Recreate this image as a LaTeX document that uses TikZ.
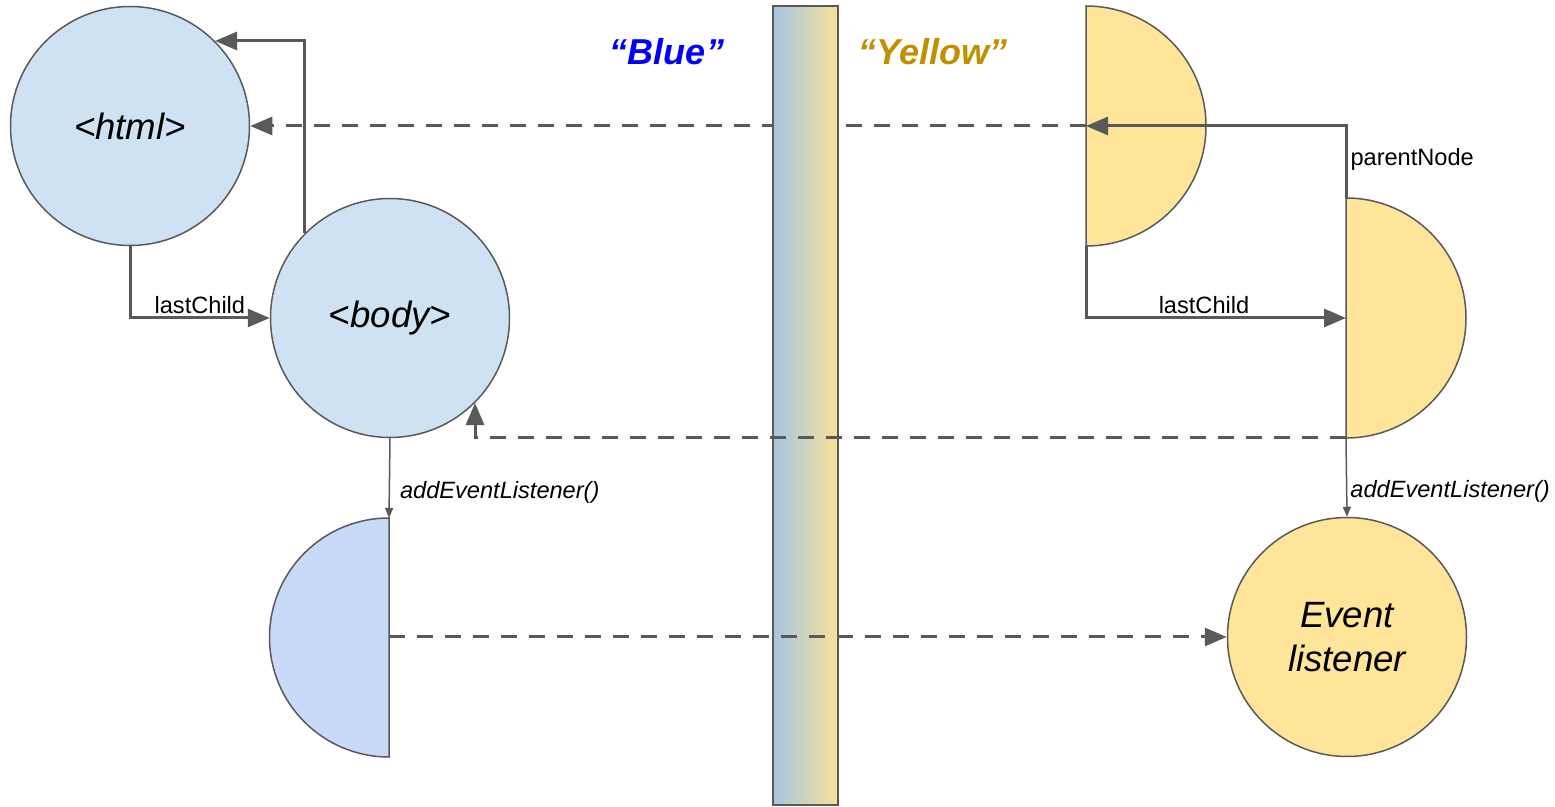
\documentclass[tikz,border=0pt]{standalone}
\usepackage{fontspec}
\setmainfont{Liberation Sans}
\usetikzlibrary{arrows.meta}
\definecolor{LineGray}{HTML}{595959}
\definecolor{NodeBlue}{HTML}{CFE2F3}
\definecolor{ListBlue}{HTML}{C9DAF8}
\definecolor{NodeYellow}{HTML}{FFE599}
\definecolor{BarBlue}{HTML}{A6C6E2}
\definecolor{BarYellow}{HTML}{F7E19A}
\definecolor{WordBlue}{HTML}{0000FF}
\definecolor{WordYellow}{HTML}{BF9000}

\begin{document}
\begin{tikzpicture}[x=0.5pt,y=-0.5pt,>={Triangle[length=11pt,width=9pt]},
  ball/.style={circle,draw=LineGray,line width=.75pt,minimum size=119.5pt,inner sep=0pt,
    font=\fontsize{18.3}{22}\selectfont\itshape,align=center},
  half/.style={draw=LineGray,line width=.75pt},
  link/.style={draw=LineGray,line width=1.5pt},
  ghost/.style={link,dash pattern=on 8pt off 6pt},
  call/.style={draw=LineGray,line width=.75pt,-{Triangle[length=5pt,width=4pt]}},
  lbl/.style={font=\fontsize{11.8}{14}\selectfont,inner sep=1.5pt},
  side/.style={font=\fontsize{18}{22}\selectfont\bfseries\itshape}]
\useasboundingbox (0,0) rectangle (1555,807);
\node[ball,fill=NodeBlue] (html) at (130,126) {<html>};
\node[ball,fill=NodeBlue] (body) at (390,318) {\raisebox{-1pt}{<body>}};
\node[ball,fill=NodeYellow] (ev) at (1347,637) {Event\\listener};
% half shapes
\draw[half,fill=ListBlue] (389,518) arc[start angle=-90,end angle=-270,radius=119.5] -- cycle;
\draw[half,fill=NodeYellow] (1086,6) arc[start angle=-90,end angle=90,radius=120] -- cycle;
\draw[half,fill=NodeYellow] (1346,198) arc[start angle=-90,end angle=90,radius=120] -- cycle;
\coordinate (bl) at (389,637);
\coordinate (blN) at (389,518);
\coordinate (ya) at (1086,126);
\coordinate (yaS) at (1086,246);
\coordinate (yb) at (1346,318);
\coordinate (ybN) at (1346,198);
\coordinate (ybS) at (1346,438);
\draw[ghost,->] (ya) -- (html.east);
\node[draw=LineGray,line width=.75pt,left color=BarBlue,right color=BarYellow,
  minimum width=32.5pt,minimum height=399.5pt,inner sep=0pt] (wall) at (805.5,405.5) {};
\node[side,text=WordBlue] (blue) at (667,52) {“Blue”};
\node[side,text=WordYellow] (yellow) at (933,52) {“Yellow”};
% links
\draw[link,->] (body.135) |- (html.45);
\draw[link,->] (html.south) |- node[lbl,above,pos=.75] {lastChild} (body.west);
\draw[link,->] (yaS) |- node[lbl,above,pos=.75,xshift=-6pt] {lastChild} (yb);
\draw[link,->] (ybN) |- node[lbl,right,pos=.25,yshift=1.5pt] {parentNode} (ya);
\draw[ghost,->] (ybS) -| (body.-45);
\draw[call] (body.south) -- node[lbl,right,pos=.68,xshift=3.5pt,font=\fontsize{11.8}{14}\selectfont\itshape] {addEventListener()} (blN);
\draw[call] (ybS) -- node[lbl,right,pos=.68,font=\fontsize{11.8}{14}\selectfont\itshape] {addEventListener()} (ev.north);
\draw[ghost,->] (bl) -- (ev.west);
\end{tikzpicture}
\end{document}
